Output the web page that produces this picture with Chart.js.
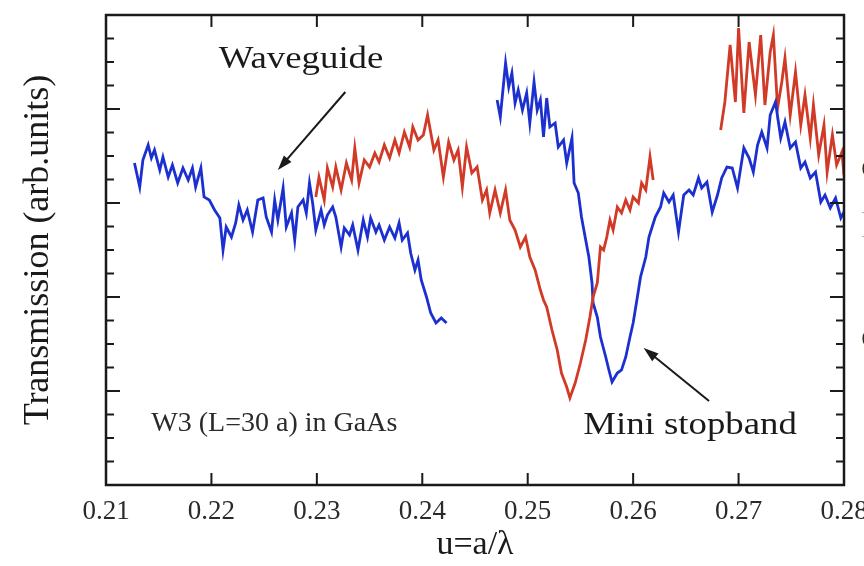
<!DOCTYPE html>
<html>
<head>
<meta charset="utf-8">
<script src="https://cdn.jsdelivr.net/npm/chart.js@4.4.1/dist/chart.umd.min.js"></script>
<style>
  html, body { margin: 0; padding: 0; background: #fff; }
  #wrap { width: 864px; height: 566px; }
</style>
</head>
<body>
<div id="wrap"><canvas id="transmission"></canvas></div>
<script>
// axis ticks (u = a/lambda); y is arbitrary units, 0..yMax, no labels
const xTicks = [0.21, 0.22, 0.23, 0.24, 0.25, 0.26, 0.27, 0.28];
const yMax = 4.7;
const yDivisions = 20;

// blue, waveguide transmission (left piece)
const blueWaveU = [0.2127,0.2132,0.2135,0.2140,0.2143,0.2146,0.2151,0.2154,0.2159,0.2163,
  0.2168,0.2173,0.2178,0.2182,0.2185,0.2190,0.2193,0.2198,0.2203,0.2208,
  0.2211,0.2214,0.2219,0.2223,0.2226,0.2230,0.2234,0.2239,0.2244,0.2249,
  0.2252,0.2257,0.2260,0.2263,0.2268,0.2271,0.2276,0.2279,0.2282,0.2287,
  0.2290,0.2293,0.2296,0.2299,0.2304,0.2307,0.2310,0.2315,0.2318,0.2323,
  0.2326,0.2331,0.2334,0.2339,0.2344,0.2348,0.2351,0.2356,0.2359,0.2364,
  0.2369,0.2374,0.2378,0.2381,0.2386,0.2389,0.2393,0.2396,0.2399,0.2404,
  0.2408,0.2413,0.2418,0.2423];
const blueWaveT = [3.22,2.98,3.25,3.40,3.27,3.35,3.15,3.28,3.08,3.20,
  3.02,3.17,3.05,3.17,2.98,3.17,2.88,2.85,2.75,2.67,
  2.35,2.58,2.48,2.62,2.80,2.65,2.75,2.53,2.85,2.87,
  2.68,2.53,2.85,2.65,2.97,2.58,2.72,2.45,2.78,2.85,
  2.72,3.02,2.82,2.55,2.75,2.60,2.70,2.78,2.68,2.38,
  2.57,2.50,2.60,2.35,2.65,2.48,2.67,2.53,2.60,2.45,
  2.58,2.47,2.62,2.45,2.52,2.32,2.15,2.25,2.05,1.88,
  1.72,1.62,1.67,1.62];

// red, first piece with the left dip
const redDipU = [0.2299,0.2302,0.2307,0.2310,0.2315,0.2318,0.2323,0.2328,0.2333,0.2336,
  0.2340,0.2345,0.2350,0.2355,0.2359,0.2364,0.2369,0.2374,0.2378,0.2383,
  0.2388,0.2391,0.2396,0.2401,0.2405,0.2411,0.2415,0.2420,0.2425,0.2430,
  0.2434,0.2438,0.2442,0.2447,0.2452,0.2457,0.2461,0.2464,0.2469,0.2474,
  0.2479,0.2483,0.2488,0.2493,0.2498,0.2502,0.2507,0.2512,0.2515,0.2518,
  0.2523,0.2528,0.2532,0.2537,0.2540,0.2545,0.2550,0.2555,0.2559,0.2562,
  0.2566,0.2569,0.2572,0.2575,0.2578,0.2581,0.2585,0.2589,0.2593,0.2597,
  0.2600,0.2605,0.2608,0.2612,0.2616,0.2619];
const redDipT = [2.88,3.08,2.85,3.17,2.98,3.18,2.95,3.22,3.05,3.37,
  3.02,3.25,3.18,3.32,3.23,3.40,3.27,3.45,3.32,3.53,
  3.38,3.58,3.45,3.50,3.70,3.35,3.45,3.08,3.43,3.25,
  3.35,2.98,3.38,3.12,3.18,2.85,2.95,2.72,2.95,2.72,
  2.95,2.65,2.55,2.38,2.48,2.28,2.15,1.95,1.85,1.78,
  1.55,1.35,1.12,0.98,0.87,1.02,1.22,1.45,1.68,1.88,
  2.02,2.38,2.35,2.48,2.65,2.55,2.78,2.72,2.85,2.75,
  2.88,2.82,3.02,2.95,3.28,3.05];

// blue, second piece with the mini stopband
const blueStopU = [0.2471,0.2474,0.2479,0.2482,0.2485,0.2488,0.2491,0.2495,0.2499,0.2502,
  0.2506,0.2509,0.2512,0.2515,0.2518,0.2521,0.2526,0.2529,0.2534,0.2537,
  0.2542,0.2544,0.2548,0.2551,0.2555,0.2558,0.2561,0.2562,0.2566,0.2569,
  0.2574,0.2577,0.2580,0.2585,0.2589,0.2593,0.2597,0.2600,0.2604,0.2607,
  0.2612,0.2615,0.2618,0.2621,0.2626,0.2629,0.2634,0.2638,0.2643,0.2648,
  0.2653,0.2657,0.2662,0.2665,0.2670,0.2675,0.2680,0.2684,0.2689,0.2694,
  0.2699,0.2702,0.2705,0.2710,0.2714,0.2718,0.2722,0.2727,0.2730,0.2735,
  0.2740,0.2744,0.2749,0.2754,0.2759,0.2763,0.2768,0.2773,0.2778,0.2782,
  0.2787,0.2792,0.2797,0.2800];
const blueStopT = [3.85,3.68,4.22,3.98,4.12,3.82,3.95,3.75,3.92,3.62,
  4.03,3.75,3.85,3.48,3.87,3.58,3.62,3.38,3.45,3.22,
  3.47,3.02,2.92,2.68,2.45,2.28,2.02,1.82,1.68,1.48,
  1.28,1.15,1.03,1.12,1.15,1.28,1.48,1.62,1.88,2.08,
  2.28,2.48,2.58,2.68,2.78,2.92,2.83,2.90,2.53,2.90,
  2.95,2.90,3.07,2.97,3.03,2.73,2.90,3.07,3.18,3.17,
  2.97,3.17,3.37,3.27,3.13,3.40,3.53,3.37,3.70,3.83,
  3.47,3.63,3.37,3.43,3.17,3.23,3.07,3.13,2.83,2.90,
  2.77,2.87,2.67,2.73];

// red, last piece (right, noisy peak)
const redPeakU = [0.2683,0.2687,0.2692,0.2697,0.2700,0.2705,0.2710,0.2716,0.2721,0.2725,
  0.2730,0.2733,0.2737,0.2741,0.2744,0.2749,0.2754,0.2759,0.2763,0.2768,
  0.2771,0.2776,0.2781,0.2784,0.2789,0.2793,0.2798,0.2800];
const redPeakT = [3.55,3.83,4.40,3.83,4.57,3.72,4.43,3.90,4.50,3.80,
  4.33,4.50,3.77,4.03,4.27,3.70,4.13,3.60,3.90,3.47,
  3.80,3.30,3.60,3.13,3.50,3.20,3.33,3.10];

const BLUE = '#1b30cf';
const RED = '#d13a27';
const INK = '#1a1a1a';
const SERIF = '"Liberation Serif", "Times New Roman", serif';

const pts = (us, ts) => us.map((u, i) => ({ x: u, y: ts[i] }));

const line = (data, color) => ({
  data,
  borderColor: color,
  borderWidth: 2.8,
  pointRadius: 0,
  tension: 0,
  fill: false,
});

// frame plus inward tick marks on all four sides
const frameTicks = {
  id: 'frameTicks',
  afterDatasetsDraw(chart) {
    const { ctx, chartArea: a, scales: { x, y } } = chart;
    ctx.save();
    ctx.strokeStyle = INK;
    ctx.lineWidth = 2;
    ctx.beginPath();
    xTicks.forEach(v => {
      const px = x.getPixelForValue(v);
      ctx.moveTo(px, a.bottom); ctx.lineTo(px, a.bottom - 12);
      ctx.moveTo(px, a.top); ctx.lineTo(px, a.top + 12);
    });
    for (let i = 0; i <= yDivisions; i++) {
      const py = y.getPixelForValue(yMax * i / yDivisions);
      const len = i % 4 === 0 ? 14 : 8;
      ctx.moveTo(a.left, py); ctx.lineTo(a.left + len, py);
      ctx.moveTo(a.right, py); ctx.lineTo(a.right - len, py);
    }
    ctx.stroke();
    ctx.lineWidth = 2.5;
    ctx.strokeRect(a.left, a.top, a.right - a.left, a.bottom - a.top);
    ctx.restore();
  }
};

function arrow(ctx, x0, y0, x1, y1) {
  const ang = Math.atan2(y1 - y0, x1 - x0);
  const head = 15, half = 5;
  ctx.beginPath();
  ctx.moveTo(x0, y0);
  ctx.lineTo(x1 - Math.cos(ang) * head * 0.8, y1 - Math.sin(ang) * head * 0.8);
  ctx.stroke();
  ctx.beginPath();
  ctx.moveTo(x1, y1);
  ctx.lineTo(x1 - Math.cos(ang) * head - Math.sin(ang) * half, y1 - Math.sin(ang) * head + Math.cos(ang) * half);
  ctx.lineTo(x1 - Math.cos(ang) * head + Math.sin(ang) * half, y1 - Math.sin(ang) * head - Math.cos(ang) * half);
  ctx.closePath();
  ctx.fill();
}

// the labels in the source figure are a little wider than tall
function wideText(ctx, text, px, py, stretch) {
  ctx.save();
  ctx.translate(px, py);
  ctx.scale(stretch, 1);
  ctx.fillText(text, 0, 0);
  ctx.restore();
}

// labels and arrows placed in data coordinates
const notes = {
  id: 'notes',
  afterDraw(chart) {
    const { ctx, scales: { x, y } } = chart;
    const X = v => x.getPixelForValue(v), Y = v => y.getPixelForValue(v);
    ctx.save();
    ctx.fillStyle = INK;
    ctx.strokeStyle = INK;
    ctx.lineWidth = 2;
    ctx.textBaseline = 'middle';

    ctx.font = '32px ' + SERIF;
    ctx.textAlign = 'center';
    wideText(ctx, 'Waveguide', X(0.2285), Y(4.25), 1.15);
    arrow(ctx, X(0.2327), Y(3.93), X(0.2263), Y(3.15));

    wideText(ctx, 'Mini stopband', X(0.2654), Y(0.59), 1.15);
    arrow(ctx, X(0.2672), Y(0.84), X(0.2610), Y(1.37));

    ctx.font = '28px ' + SERIF;
    ctx.textAlign = 'left';
    ctx.fillStyle = '#2a2a2a';
    ctx.fillText('W3 (L=30 a) in GaAs', X(0.2143), Y(0.61));

    // letters of the neighbouring text, cut off by the right edge
    ctx.font = '36px ' + SERIF;
    ctx.fillStyle = '#3a2a1a';
    ctx.fillText('c', chart.width - 3, 168);
    ctx.fillStyle = '#c8b090';
    ctx.fillText('l', chart.width - 3, 228);
    ctx.fillStyle = '#3a2a1a';
    ctx.fillText('c', chart.width - 3, 338);
    ctx.restore();
  }
};

new Chart(document.getElementById('transmission'), {
  type: 'line',
  data: {
    datasets: [
      line(pts(blueWaveU, blueWaveT), BLUE),
      line(pts(redDipU, redDipT), RED),
      line(pts(blueStopU, blueStopT), BLUE),
      line(pts(redPeakU, redPeakT), RED),
    ],
  },
  options: {
    responsive: true,
    maintainAspectRatio: false,
    animation: false,
    layout: { padding: { top: 15, right: 20, left: 0, bottom: 0 } },
    plugins: { legend: { display: false }, tooltip: { enabled: false } },
    scales: {
      x: {
        type: 'linear',
        min: 0.21,
        max: 0.28,
        afterBuildTicks: s => { s.ticks = xTicks.map(v => ({ value: v })); },
        afterFit: s => { s.height = 81; s.paddingLeft = 0; s.paddingRight = 0; },
        grid: { display: false, drawTicks: false },
        border: { display: false },
        ticks: {
          autoSkip: false,
          maxRotation: 0,
          padding: 11,
          color: '#2a2a2a',
          font: { family: SERIF, size: 27 },
          callback: v => v.toFixed(2),
        },
        title: {
          display: true,
          text: 'u=a/λ',
          color: INK,
          font: { family: SERIF, size: 34 },
          padding: { top: 0, bottom: 1 },
        },
      },
      y: {
        min: 0,
        max: yMax,
        afterFit: s => { s.width = 106; s.paddingTop = 0; s.paddingBottom = 0; },
        grid: { display: false, drawTicks: false },
        border: { display: false },
        ticks: { display: false },
        title: {
          display: true,
          text: 'Transmission (arb.units)',
          color: INK,
          font: { family: SERIF, size: 36 },
          padding: { top: 17, bottom: 0 },
        },
      },
    },
  },
  plugins: [frameTicks, notes],
});
</script>
</body>
</html>
